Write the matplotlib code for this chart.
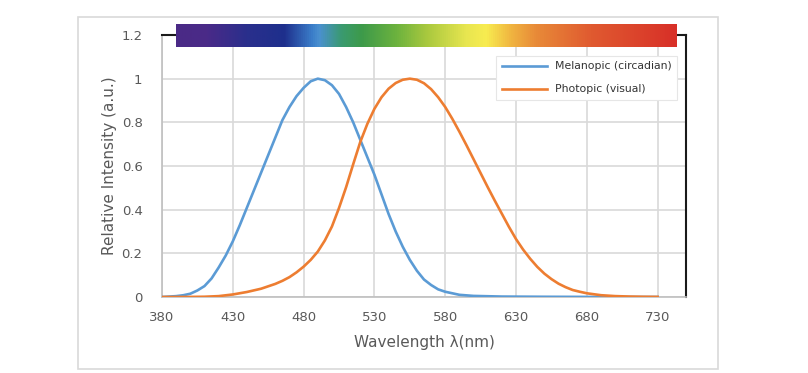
import matplotlib
matplotlib.use("Agg")
import matplotlib.pyplot as plt
import numpy as np
from matplotlib.colors import LinearSegmentedColormap
from matplotlib.patches import Rectangle

# Melanopic (circadian) curve
mel_wl = [380, 385, 390, 395, 400, 405, 410, 415, 420, 425, 430, 435, 440, 445,
          450, 455, 460, 465, 470, 475, 480, 485, 490, 495, 500, 505, 510, 515,
          520, 525, 530, 535, 540, 545, 550, 555, 560, 565, 570, 575, 580, 590,
          600, 620, 650, 700, 730]
mel_val = [0.0, 0.002, 0.004, 0.008, 0.015, 0.03, 0.05, 0.085, 0.135, 0.19, 0.255,
           0.33, 0.41, 0.49, 0.57, 0.65, 0.73, 0.81, 0.87, 0.92, 0.958, 0.988,
           1.0, 0.993, 0.97, 0.93, 0.87, 0.80, 0.72, 0.64, 0.56, 0.47, 0.38, 0.30,
           0.23, 0.17, 0.12, 0.08, 0.055, 0.035, 0.024, 0.01, 0.005, 0.002,
           0.001, 0.0, 0.0]

# Photopic (visual) curve
pho_wl = [380, 390, 400, 410, 420, 430, 440, 450, 460, 465, 470, 475, 480, 485,
          490, 495, 500, 505, 510, 515, 520, 525, 530, 535, 540, 545, 550, 555,
          560, 565, 570, 575, 580, 585, 590, 595, 600, 605, 610, 615, 620, 625,
          630, 635, 640, 645, 650, 655, 660, 665, 670, 675, 680, 690, 700, 710,
          720, 730]
pho_val = [0.00004, 0.00012, 0.0004, 0.0012, 0.004, 0.0116, 0.023, 0.038, 0.06,
           0.074, 0.091, 0.113, 0.139, 0.170, 0.208, 0.259, 0.323, 0.408, 0.503,
           0.608, 0.71, 0.793, 0.862, 0.915, 0.954, 0.980, 0.995, 1.0, 0.995,
           0.979, 0.952, 0.915, 0.87, 0.816, 0.757, 0.695, 0.631, 0.567, 0.503,
           0.441, 0.381, 0.321, 0.265, 0.217, 0.175, 0.138, 0.107, 0.082, 0.061,
           0.045, 0.032, 0.024, 0.017, 0.0082, 0.0041, 0.0021, 0.001, 0.0005]

xticks = [380, 430, 480, 530, 580, 630, 680, 730]
yticks = [0, 0.2, 0.4, 0.6, 0.8, 1.0, 1.2]
ytick_labels = ["0", "0.2", "0.4", "0.6", "0.8", "1", "1.2"]

# spectrum bar colours (position along bar, colour)
spec_pos = [0.0, 0.06, 0.14, 0.215, 0.27, 0.285, 0.33, 0.37, 0.44, 0.50, 0.58,
            0.62, 0.67, 0.72, 0.83, 1.0]
spec_col = ["#4b2a86", "#4a2a88", "#2a2f8c", "#1e2f8c", "#3a7cc8", "#4a90d0",
            "#3a9a70", "#3d9a4a", "#6cb23e", "#a8c83e", "#e8e650", "#f8ec50",
            "#f0b440", "#e88a38", "#e05a30", "#d83028"]

blue = "#5b9bd5"
orange = "#ed7d31"
grey_text = "#595959"
grid_col = "#d9d9d9"

fig = plt.figure(figsize=(8.08, 3.73), dpi=100)
fig.patches.append(Rectangle((78 / 808, 1 - 369 / 373), 640 / 808, 352 / 373,
                             transform=fig.transFigure, fill=False,
                             edgecolor="#d9d9d9", linewidth=1.2))

ax = fig.add_axes([162 / 808, 76 / 373, 524 / 808, 262 / 373])

cmap = LinearSegmentedColormap.from_list("spec", list(zip(spec_pos, spec_col)))
im = ax.imshow(np.linspace(0, 1, 512)[None, :], cmap=cmap, aspect="auto",
               extent=(390, 743.4, 1.145, 1.246), zorder=4)
im.set_clip_on(False)

ax.plot(mel_wl, mel_val, color=blue, lw=1.9, label="Melanopic (circadian)",
        zorder=3, solid_joinstyle="round")
ax.plot(pho_wl, pho_val, color=orange, lw=1.9, label="Photopic (visual)",
        zorder=3, solid_joinstyle="round")

ax.set_xlim(380, 750)
ax.set_ylim(0, 1.2)
ax.set_xticks(xticks)
ax.set_yticks(yticks)
ax.set_yticklabels(ytick_labels)
ax.tick_params(length=0, labelsize=9.5, labelcolor=grey_text)
ax.tick_params(axis="x", pad=10)
ax.tick_params(axis="y", pad=14)
ax.grid(True, color=grid_col, lw=1.2)
ax.set_axisbelow(True)

for s in ["left", "bottom"]:
    ax.spines[s].set_color("#bfbfbf")
    ax.spines[s].set_linewidth(1.2)
for s in ["top", "right"]:
    ax.spines[s].set_color("#1a1a1a")
    ax.spines[s].set_linewidth(1.5)

ax.set_xlabel("Wavelength λ(nm)", fontsize=11, color=grey_text, labelpad=8)
ax.set_ylabel("Relative Intensity (a.u.)", fontsize=11, color=grey_text, labelpad=3)

leg = ax.legend(loc="upper right", bbox_to_anchor=(0.983, 0.92), borderaxespad=0,
                fontsize=7.8, handlelength=4.2, handletextpad=0.7, borderpad=0.5,
                labelspacing=1.2, fancybox=False, framealpha=1,
                edgecolor="#e6e6e6")
leg.get_frame().set_linewidth(0.8)
for t in leg.get_texts():
    t.set_color("#333333")

fig.savefig("out.png", dpi=100)
